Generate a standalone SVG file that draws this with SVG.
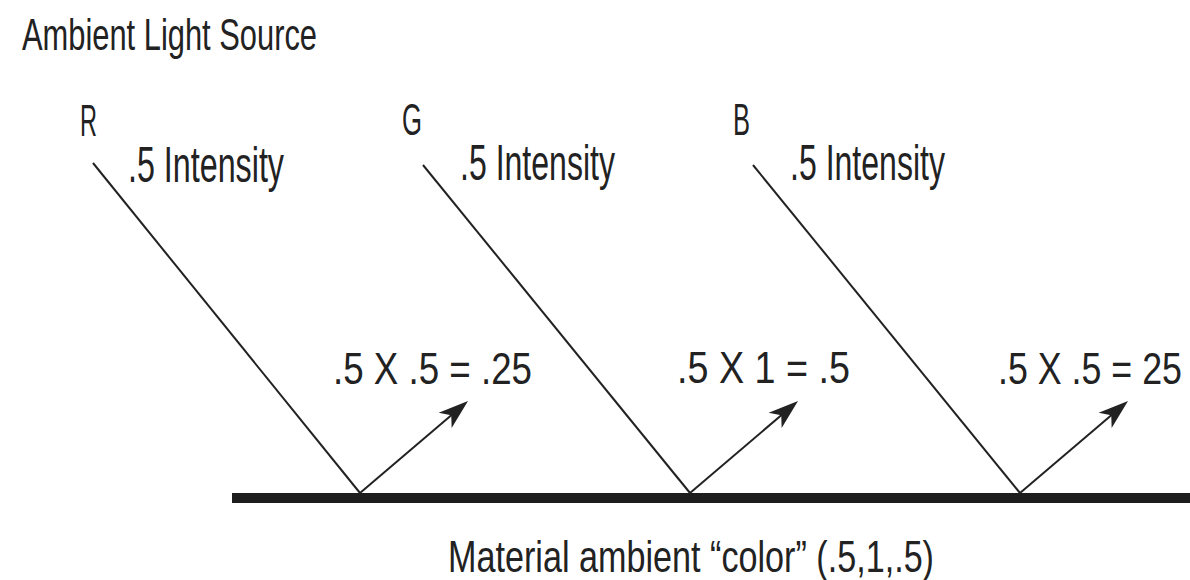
<svg xmlns="http://www.w3.org/2000/svg" width="1190" height="580" viewBox="0 0 1190 580">
  <style>
    .t { font-family: "Liberation Sans Narrow", "Liberation Sans", "DejaVu Sans Condensed", sans-serif; fill: #222; font-size: 45px; }
    .big { font-size: 50px; }
    .edge { font-size: 43.5px; }
    .ln { stroke: #222; stroke-width: 2; fill: none; }
    .arr { stroke: #222; stroke-width: 2; fill: none; marker-end: url(#head); }
  </style>
  <defs>
    <marker id="head" markerUnits="userSpaceOnUse" viewBox="-32 -12 34 24" markerWidth="34" markerHeight="24" refX="-10" refY="0" orient="auto">
      <path d="M0,0 L-30,-10 L-22,0 L-30,10 Z" fill="#222"/>
    </marker>
  </defs>
  <rect width="1190" height="580" fill="#fff"/>

  <g id="ambient-source">
    <text class="t" x="22" y="50" textLength="295" lengthAdjust="spacingAndGlyphs">Ambient Light Source</text>
  </g>

  <g id="channel-r">
    <text class="t" x="80" y="136" textLength="17" lengthAdjust="spacingAndGlyphs">R</text>
    <text class="t big" x="128" y="182" textLength="156" lengthAdjust="spacingAndGlyphs">.5 Intensity</text>
  </g>
  <g id="channel-g">
    <text class="t" x="402" y="135" textLength="20" lengthAdjust="spacingAndGlyphs">G</text>
    <text class="t big" x="460" y="180" textLength="155" lengthAdjust="spacingAndGlyphs">.5 Intensity</text>
  </g>
  <g id="channel-b">
    <text class="t" x="733" y="135" textLength="17" lengthAdjust="spacingAndGlyphs">B</text>
    <text class="t big" x="790" y="180" textLength="155" lengthAdjust="spacingAndGlyphs">.5 Intensity</text>
  </g>

  <g id="result-r">
    <text class="t" x="333" y="384" textLength="199" lengthAdjust="spacingAndGlyphs">.5 X .5 = .25</text>
  </g>
  <g id="result-g">
    <text class="t" x="677" y="383" textLength="173" lengthAdjust="spacingAndGlyphs">.5 X 1 = .5</text>
  </g>
  <g id="result-b">
    <text class="t edge" x="998" y="384" textLength="184" lengthAdjust="spacingAndGlyphs">.5 X .5 = 25</text>
  </g>

  <g id="material">
    <rect x="232" y="493" width="958" height="10" fill="#1e1e1e"/>
    <text class="t" x="448" y="572" textLength="486" lengthAdjust="spacingAndGlyphs">Material ambient “color” (.5,1,.5)</text>
  </g>

  <g id="connectors">
    <line class="ln" x1="93" y1="163" x2="360" y2="493"/>
    <line class="ln" x1="423" y1="165" x2="690" y2="493"/>
    <line class="ln" x1="753" y1="165" x2="1020" y2="493"/>
    <line class="arr" x1="360" y1="493" x2="460.4" y2="407.5"/>
    <line class="arr" x1="690" y1="493" x2="790.4" y2="407.5"/>
    <line class="arr" x1="1020" y1="493" x2="1120.4" y2="407.5"/>
  </g>
</svg>
